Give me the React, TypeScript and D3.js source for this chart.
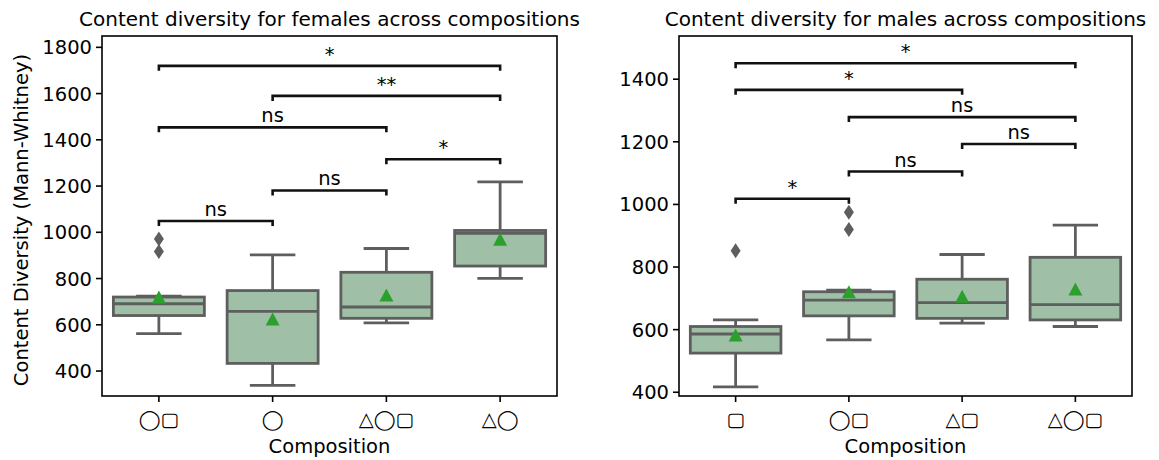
import * as d3 from "d3";

// categories on each panel
const femaleCats = ["◯▢", "◯", "△◯▢", "△◯"];
const maleCats = ["▢", "◯▢", "△▢", "△◯▢"];

// box statistics
const femaleLow = [562, 338, 608, 801];
const femaleQ1 = [640, 433, 628, 854];
const femaleMedian = [691, 658, 677, 995];
const femaleQ3 = [720, 748, 827, 1008];
const femaleHigh = [724, 902, 930, 1218];
const femaleMean = [714, 619, 722, 963];
const femaleOutliers = [[971, 917], [], [], []];

const maleLow = [417, 567, 621, 610];
const maleQ1 = [525, 644, 636, 631];
const maleMedian = [586, 694, 686, 680];
const maleQ3 = [610, 721, 761, 831];
const maleHigh = [631, 726, 840, 934];
const maleMean = [578, 716, 702, 725];
const maleOutliers = [[852], [975, 920], [], []];

// significance brackets: [from, to, label, level]
const femalePairs: [number, number, string, number][] = [
  [0, 1, "ns", 1049],
  [1, 2, "ns", 1181],
  [2, 3, "*", 1316],
  [0, 2, "ns", 1454],
  [1, 3, "**", 1590],
  [0, 3, "*", 1720],
];
const malePairs: [number, number, string, number][] = [
  [0, 1, "*", 1018],
  [1, 2, "ns", 1105],
  [2, 3, "ns", 1193],
  [1, 3, "ns", 1279],
  [0, 2, "*", 1366],
  [0, 3, "*", 1451],
];

const femaleTicks = [400, 600, 800, 1000, 1200, 1400, 1600, 1800];
const maleTicks = [400, 600, 800, 1000, 1200, 1400];

const FONT = "DejaVu Sans, sans-serif";
const FILL = "#9fc0a6";
const EDGE = "#5e5e5e";
const FS = 19.5;

type PanelProps = {
  title: string;
  cats: string[];
  low: number[];
  q1: number[];
  median: number[];
  q3: number[];
  high: number[];
  mean: number[];
  outliers: number[][];
  pairs: [number, number, string, number][];
  ticks: number[];
  domain: [number, number];
  x0: number;
  x1: number;
  yLabel?: string;
};

const top = 36;
const bottom = 396;

const Panel = (p: PanelProps) => {
  const x = d3.scaleBand().domain(p.cats).range([p.x0, p.x1]);
  const y = d3.scaleLinear().domain(p.domain).range([bottom, top]);
  const bw = x.bandwidth() * 0.8;
  const cx = (i: number) => (x(p.cats[i]) as number) + x.bandwidth() / 2;
  const midX = (p.x0 + p.x1) / 2;

  return (
    <g fontFamily={FONT}>
      <text x={midX} y={26} textAnchor="middle" fontSize={20}>
        {p.title}
      </text>

      {p.cats.map((c, i) => {
        const xc = cx(i);
        return (
          <g key={c}>
            <line x1={xc} x2={xc} y1={y(p.q3[i])} y2={y(p.high[i])} stroke={EDGE} strokeWidth={2.8} />
            <line x1={xc} x2={xc} y1={y(p.q1[i])} y2={y(p.low[i])} stroke={EDGE} strokeWidth={2.8} />
            <line x1={xc - bw / 4} x2={xc + bw / 4} y1={y(p.high[i])} y2={y(p.high[i])} stroke={EDGE} strokeWidth={2.8} />
            <line x1={xc - bw / 4} x2={xc + bw / 4} y1={y(p.low[i])} y2={y(p.low[i])} stroke={EDGE} strokeWidth={2.8} />
            <rect
              x={xc - bw / 2}
              y={y(p.q3[i])}
              width={bw}
              height={y(p.q1[i]) - y(p.q3[i])}
              fill={FILL}
              stroke={EDGE}
              strokeWidth={2.8}
            />
            <line x1={xc - bw / 2} x2={xc + bw / 2} y1={y(p.median[i])} y2={y(p.median[i])} stroke={EDGE} strokeWidth={2.8} />
            {p.outliers[i].map((o, j) => (
              <path
                key={j}
                d={`M${xc},${y(o) - 7.5}L${xc + 5},${y(o)}L${xc},${y(o) + 7.5}L${xc - 5},${y(o)}Z`}
                fill={EDGE}
              />
            ))}
            <path
              d={`M${xc},${y(p.mean[i]) - 8}L${xc + 7},${y(p.mean[i]) + 5}L${xc - 7},${y(p.mean[i]) + 5}Z`}
              fill="#2ca02c"
            />
          </g>
        );
      })}

      {p.pairs.map(([a, b, label, lvl], k) => {
        const ya = y(lvl);
        const xa = cx(a);
        const xb = cx(b);
        return (
          <g key={k}>
            <path
              d={`M${xa},${ya + 5}V${ya}H${xb}V${ya + 5}`}
              fill="none"
              stroke="#111"
              strokeWidth={2.6}
            />
            <text x={(xa + xb) / 2} y={ya - 5} textAnchor="middle" fontSize={FS}>
              {label}
            </text>
          </g>
        );
      })}

      <rect x={p.x0} y={top} width={p.x1 - p.x0} height={bottom - top} fill="none" stroke="#000" strokeWidth={1.6} />

      {p.ticks.map((t) => (
        <g key={t}>
          <line x1={p.x0 - 6} x2={p.x0} y1={y(t)} y2={y(t)} stroke="#000" strokeWidth={1.6} />
          <text x={p.x0 - 10} y={y(t)} dy="0.36em" textAnchor="end" fontSize={FS}>
            {t}
          </text>
        </g>
      ))}

      {p.cats.map((c, i) => (
        <g key={c}>
          <line x1={cx(i)} x2={cx(i)} y1={bottom} y2={bottom + 6} stroke="#000" strokeWidth={1.6} />
          <text x={cx(i)} y={426} textAnchor="middle" fontSize={FS}>
            {c}
          </text>
        </g>
      ))}

      <text x={midX} y={453} textAnchor="middle" fontSize={FS}>
        Composition
      </text>

      {p.yLabel && (
        <text
          transform={`translate(28,${(top + bottom) / 2 + 4}) rotate(-90)`}
          textAnchor="middle"
          fontSize={FS}
        >
          {p.yLabel}
        </text>
      )}
    </g>
  );
};

export default function App() {
  return (
    <svg
      width={1159}
      height={460}
      style={{ position: "absolute", left: 0, top: 0, background: "#fff" }}
    >
      <Panel
        title="Content diversity for females across compositions"
        cats={femaleCats}
        low={femaleLow}
        q1={femaleQ1}
        median={femaleMedian}
        q3={femaleQ3}
        high={femaleHigh}
        mean={femaleMean}
        outliers={femaleOutliers}
        pairs={femalePairs}
        ticks={femaleTicks}
        domain={[292, 1849]}
        x0={102}
        x1={557}
        yLabel="Content Diversity (Mann-Whitney)"
      />
      <Panel
        title="Content diversity for males across compositions"
        cats={maleCats}
        low={maleLow}
        q1={maleQ1}
        median={maleMedian}
        q3={maleQ3}
        high={maleHigh}
        mean={maleMean}
        outliers={maleOutliers}
        pairs={malePairs}
        ticks={maleTicks}
        domain={[388, 1538]}
        x0={679}
        x1={1132}
      />
    </svg>
  );
}
